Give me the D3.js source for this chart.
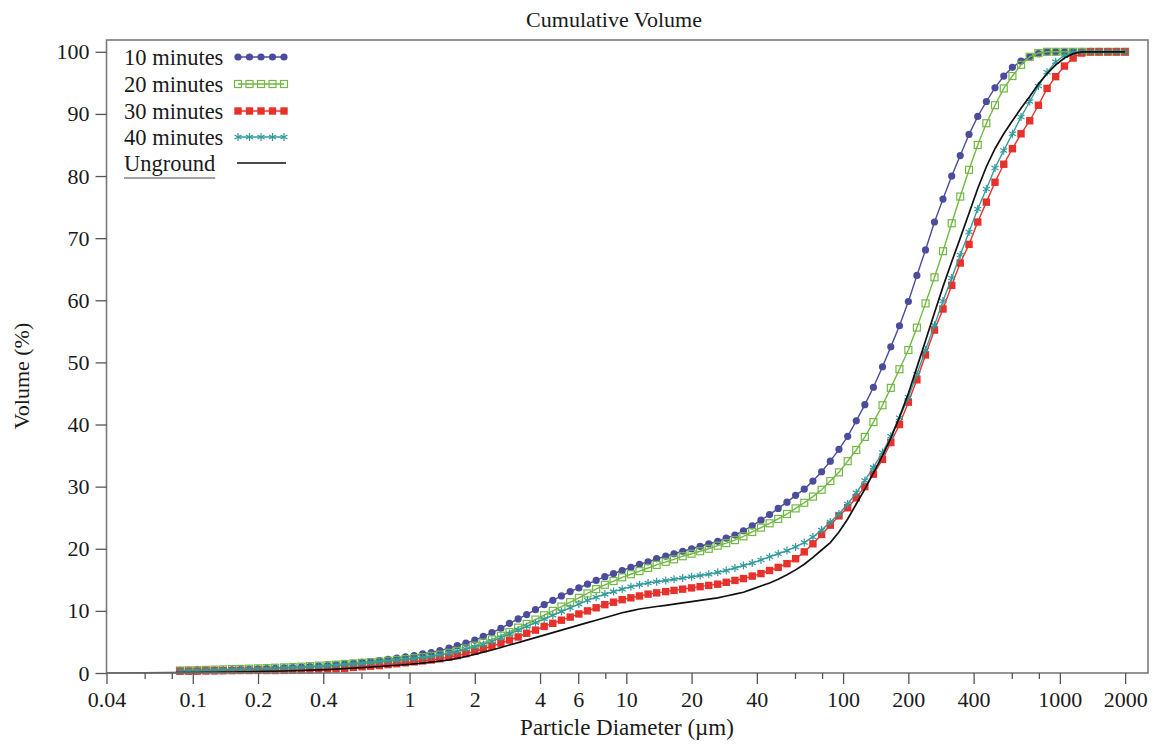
<!DOCTYPE html>
<html>
<head>
<meta charset="utf-8">
<script src="https://cdn.jsdelivr.net/npm/d3@7"></script>
<style>
  html, body { margin: 0; padding: 0; background: #fff; }
  svg text { font-family: "Liberation Serif", "Times New Roman", serif; fill: #1a1a1a; }
</style>
</head>
<body>
<div id="container"></div>
<script>
const width = 1161;
const height = 749;

// --- Data: particle size channels (µm) and cumulative volume (%) ---
const sizes = [
  0.0873, 0.0957, 0.105, 0.115, 0.126, 0.138, 0.152, 0.166, 0.182, 0.200,
  0.219, 0.240, 0.264, 0.289, 0.317, 0.347, 0.381, 0.418, 0.458, 0.502,
  0.551, 0.604, 0.662, 0.726, 0.796, 0.873, 0.957, 1.05, 1.15, 1.26,
  1.38, 1.52, 1.66, 1.82, 2.00, 2.19, 2.40, 2.64, 2.89, 3.17,
  3.47, 3.81, 4.18, 4.58, 5.02, 5.51, 6.04, 6.62, 7.26, 7.96,
  8.73, 9.57, 10.5, 11.5, 12.6, 13.8, 15.2, 16.6, 18.2, 20.0,
  21.9, 24.0, 26.4, 28.9, 31.7, 34.7, 38.1, 41.8, 45.8, 50.2,
  55.1, 60.4, 66.2, 72.6, 79.6, 87.3, 95.7, 105, 115, 126,
  138, 152, 166, 182, 200, 219, 240, 264, 289, 317,
  347, 381, 418, 458, 502, 551, 604, 662, 726, 796,
  873, 957, 1050, 1151, 1262, 1384, 1517, 1664, 1824, 2000
];

const tenMin = [
  0.28, 0.32, 0.36, 0.40, 0.44, 0.48, 0.52, 0.56, 0.60, 0.65,
  0.70, 0.76, 0.82, 0.88, 0.95, 1.02, 1.10, 1.20, 1.30, 1.42,
  1.55, 1.70, 1.85, 2.00, 2.20, 2.40, 2.60, 2.80, 3.10, 3.30,
  3.60, 4.00, 4.40, 4.80, 5.30, 5.90, 6.50, 7.20, 8.00, 8.70,
  9.40, 10.2, 11.0, 11.7, 12.4, 13.1, 13.7, 14.3, 14.9, 15.5,
  16.0, 16.5, 17.0, 17.5, 17.9, 18.4, 18.8, 19.2, 19.6, 20.0,
  20.4, 20.8, 21.2, 21.7, 22.2, 22.9, 23.7, 24.6, 25.5, 26.5,
  27.5, 28.6, 29.6, 30.9, 32.4, 34.1, 36.0, 38.1, 40.6, 43.2,
  46.0, 49.3, 52.5, 55.9, 59.8, 64.0, 68.1, 72.6, 76.3, 80.0,
  83.3, 86.7, 89.6, 92.0, 94.2, 96.1, 97.5, 98.5, 99.2, 99.7,
  100, 100, 100, 100, 100, 100, 100, 100, 100, 100
];

const twentyMin = [
  0.40, 0.43, 0.46, 0.50, 0.54, 0.58, 0.62, 0.66, 0.70, 0.75,
  0.80, 0.85, 0.90, 0.96, 1.02, 1.10, 1.18, 1.26, 1.35, 1.45,
  1.55, 1.65, 1.75, 1.85, 1.97, 2.10, 2.25, 2.40, 2.55, 2.75,
  2.95, 3.25, 3.55, 3.95, 4.40, 4.90, 5.40, 6.00, 6.60, 7.30,
  7.90, 8.60, 9.30, 10.0, 10.7, 11.4, 12.1, 12.8, 13.5, 14.2,
  14.8, 15.4, 15.9, 16.4, 16.9, 17.4, 17.9, 18.3, 18.8, 19.2,
  19.6, 20.0, 20.5, 20.9, 21.4, 22.0, 22.7, 23.4, 24.1, 24.8,
  25.6, 26.5, 27.4, 28.4, 29.5, 30.9, 32.3, 34.1, 35.9, 38.0,
  40.4, 43.1, 45.9, 48.9, 52.0, 55.6, 59.5, 63.7, 67.9, 72.4,
  76.7, 81.0, 85.0, 88.5, 91.4, 94.1, 96.1, 97.9, 99.2, 99.8,
  100, 100, 100, 100, 100, 100, 100, 100, 100, 100
];

const thirtyMin = [
  0.30, 0.30, 0.30, 0.32, 0.34, 0.36, 0.38, 0.40, 0.40, 0.42,
  0.40, 0.40, 0.42, 0.44, 0.46, 0.50, 0.54, 0.58, 0.64, 0.72,
  0.90, 1.00, 1.10, 1.20, 1.35, 1.50, 1.65, 1.80, 1.95, 2.10,
  2.30, 2.55, 2.80, 3.10, 3.50, 3.90, 4.30, 4.80, 5.30, 5.80,
  6.40, 6.90, 7.50, 8.00, 8.50, 9.00, 9.50, 10.0, 10.5, 11.0,
  11.4, 11.8, 12.1, 12.4, 12.7, 12.9, 13.1, 13.3, 13.5, 13.7,
  13.9, 14.1, 14.3, 14.6, 14.9, 15.2, 15.6, 16.0, 16.5, 17.0,
  17.6, 18.4, 19.5, 20.8, 22.3, 23.8, 25.3, 26.6, 28.2, 30.0,
  32.0, 34.4, 37.1, 40.0, 43.6, 47.2, 51.2, 55.2, 58.6, 62.4,
  66.0, 69.0, 72.6, 75.8, 79.0, 81.9, 84.4, 86.8, 88.9, 91.4,
  94.1, 96.0, 97.7, 99.0, 99.8, 100, 100, 100, 100, 100
];

const fortyMin = [
  0.35, 0.38, 0.40, 0.43, 0.46, 0.50, 0.54, 0.58, 0.62, 0.66,
  0.70, 0.75, 0.80, 0.85, 0.90, 0.97, 1.05, 1.13, 1.22, 1.32,
  1.43, 1.55, 1.67, 1.80, 1.93, 2.07, 2.20, 2.35, 2.50, 2.70,
  2.90, 3.20, 3.50, 3.85, 4.20, 4.60, 5.10, 5.70, 6.30, 6.90,
  7.50, 8.10, 8.70, 9.30, 9.90, 10.5, 11.1, 11.7, 12.2, 12.7,
  13.1, 13.5, 13.9, 14.2, 14.5, 14.7, 14.9, 15.1, 15.3, 15.5,
  15.7, 15.9, 16.2, 16.5, 16.9, 17.3, 17.7, 18.2, 18.7, 19.2,
  19.7, 20.3, 21.0, 21.9, 23.0, 24.3, 25.6, 27.2, 29.0, 31.0,
  33.1, 35.5, 38.1, 41.1, 44.4, 48.1, 52.0, 56.0, 59.9, 63.6,
  67.3, 71.0, 74.7, 77.9, 81.3, 84.1, 86.8, 89.5, 92.0, 94.5,
  96.7, 98.4, 99.4, 99.9, 100, 100, 100, 100, 100, 100
];

const unground = [
  0.05, 0.06, 0.08, 0.10, 0.12, 0.14, 0.16, 0.18, 0.20, 0.22,
  0.25, 0.28, 0.32, 0.36, 0.40, 0.45, 0.50, 0.55, 0.62, 0.70,
  0.78, 0.86, 0.95, 1.05, 1.15, 1.25, 1.35, 1.48, 1.60, 1.75,
  1.90, 2.10, 2.35, 2.65, 3.00, 3.35, 3.70, 4.10, 4.50, 4.90,
  5.30, 5.70, 6.10, 6.50, 6.90, 7.30, 7.70, 8.10, 8.50, 8.90,
  9.30, 9.70, 10.0, 10.3, 10.5, 10.7, 10.9, 11.1, 11.3, 11.5,
  11.7, 11.9, 12.1, 12.4, 12.7, 13.0, 13.5, 14.0, 14.5, 15.1,
  15.8, 16.6, 17.5, 18.6, 19.8, 21.0, 22.7, 24.8, 27.2, 29.6,
  32.2, 35.0, 37.8, 41.2, 45.0, 49.2, 53.5, 58.0, 62.2, 66.2,
  70.0, 74.0, 78.0, 81.5, 84.4, 86.8, 88.9, 90.9, 92.8, 94.8,
  96.5, 97.9, 99.0, 99.7, 100, 100, 100, 100, 100, 100
];
// Unground trace starts flat at zero from the lowest size bound
const ungroundLead = [0.04, 0];

// --- Axis tick values ---
const xMajor = [0.04, 0.1, 0.2, 0.4, 1, 2, 4, 6, 10, 20, 40, 100, 200, 400, 1000, 2000];
const xMinor = [0.06, 0.08, 0.6, 0.8, 8, 60, 80, 600, 800];
const yTicks = [0, 10, 20, 30, 40, 50, 60, 70, 80, 90, 100];

const series = [
  { name: "10 minutes", values: tenMin, color: "#4c4c9c", marker: "dot" },
  { name: "20 minutes", values: twentyMin, color: "#72b944", marker: "openSquare" },
  { name: "30 minutes", values: thirtyMin, color: "#e6322b", marker: "square" },
  { name: "40 minutes", values: fortyMin, color: "#359a9c", marker: "star" },
];

// --- Layout ---
const plot = { left: 106.5, right: 1148, top: 40, bottom: 673 };
const frameColor = "#7a7a7a";

const svg = d3.select("#container").append("svg")
  .attr("width", width).attr("height", height)
  .style("background", "#fff");

const x = d3.scaleLog().domain([0.04, 2550]).range([plot.left, plot.right]);
const y = d3.scaleLinear().domain([0, 101.9]).range([plot.bottom, plot.top]);

// --- Markers ---
function addMarker(sel, kind, color) {
  if (kind === "dot") {
    sel.append("circle").attr("r", 3.6).attr("fill", color);
  } else if (kind === "openSquare") {
    sel.append("rect").attr("x", -3.5).attr("y", -3.5).attr("width", 7).attr("height", 7)
      .attr("fill", "none").attr("stroke", color).attr("stroke-width", 1.2);
  } else if (kind === "square") {
    sel.append("rect").attr("x", -3.7).attr("y", -3.7).attr("width", 7.4).attr("height", 7.4)
      .attr("fill", color);
  } else {
    sel.append("path").attr("d", "M0,-4V4M-3.5,-2L3.5,2M-3.5,2L3.5,-2")
      .attr("fill", "none").attr("stroke", color).attr("stroke-width", 1.2);
  }
}

const line = d3.line().x(d => x(d[0])).y(d => y(d[1]));

// --- Series lines + markers ---
const plotG = svg.append("g");
series.forEach(s => {
  const pts = sizes.map((d, i) => [d, s.values[i]]);
  plotG.append("path").datum(pts)
    .attr("d", line)
    .attr("fill", "none").attr("stroke", s.color).attr("stroke-width", 1.4);
  plotG.append("g").selectAll("g").data(pts).join("g")
    .attr("transform", d => `translate(${x(d[0])},${y(d[1])})`)
    .each(function () { addMarker(d3.select(this), s.marker, s.color); });
});

const ungroundPts = [ungroundLead].concat(sizes.map((d, i) => [d, unground[i]]));
plotG.append("path").datum(ungroundPts)
  .attr("d", line)
  .attr("fill", "none").attr("stroke", "#111").attr("stroke-width", 1.7);

// --- Frame ---
svg.append("rect")
  .attr("x", plot.left).attr("y", plot.top)
  .attr("width", plot.right - plot.left).attr("height", plot.bottom - plot.top)
  .attr("fill", "none").attr("stroke", frameColor).attr("stroke-width", 1.6);

// --- X axis ---
const xAxis = svg.append("g").attr("transform", `translate(0,${plot.bottom})`)
  .call(d3.axisBottom(x).tickValues(xMajor).tickFormat(d => String(d))
    .tickSize(11).tickSizeOuter(0).tickPadding(7));
xAxis.select(".domain").remove();
xAxis.selectAll("line").attr("stroke", "#555").attr("stroke-width", 1.3);
xAxis.selectAll("text").style("font-size", "22px");

const xMinorAxis = svg.append("g").attr("transform", `translate(0,${plot.bottom})`)
  .call(d3.axisBottom(x).tickValues(xMinor).tickFormat("").tickSize(6).tickSizeOuter(0));
xMinorAxis.select(".domain").remove();
xMinorAxis.selectAll("line").attr("stroke", "#555").attr("stroke-width", 1.3);

// --- Y axis ---
const yAxis = svg.append("g").attr("transform", `translate(${plot.left},0)`)
  .call(d3.axisLeft(y).tickValues(yTicks).tickSize(11).tickSizeOuter(0).tickPadding(6));
yAxis.select(".domain").remove();
yAxis.selectAll("line").attr("stroke", "#555").attr("stroke-width", 1.3);
yAxis.selectAll("text").style("font-size", "22px");

// --- Titles ---
svg.append("text")
  .attr("x", 614).attr("y", 27)
  .attr("text-anchor", "middle")
  .style("font-size", "22px")
  .text("Cumulative Volume");

svg.append("text")
  .attr("x", 627).attr("y", 735)
  .attr("text-anchor", "middle")
  .style("font-size", "23px")
  .text("Particle Diameter (µm)");

svg.append("text")
  .attr("transform", "rotate(-90)")
  .attr("x", -376).attr("y", 29)
  .attr("text-anchor", "middle")
  .style("font-size", "22px")
  .text("Volume (%)");

// --- Legend ---
const legend = svg.append("g");
const rowY = [57, 84, 111, 137, 163];
const sampleX = [238, 249.5, 261, 272.5, 284];

series.forEach((s, i) => {
  legend.append("text")
    .attr("x", 124).attr("y", rowY[i]).attr("dy", "0.35em")
    .style("font-size", "22.5px")
    .text(s.name);
  legend.append("line")
    .attr("x1", sampleX[0]).attr("x2", sampleX[4])
    .attr("y1", rowY[i]).attr("y2", rowY[i])
    .attr("stroke", s.color).attr("stroke-width", 1.4);
  sampleX.forEach(sx => {
    const m = legend.append("g").attr("transform", `translate(${sx},${rowY[i]})`);
    addMarker(m, s.marker, s.color);
  });
});

const ungroundText = legend.append("text")
  .attr("x", 124).attr("y", rowY[4]).attr("dy", "0.35em")
  .style("font-size", "22.5px")
  .text("Unground");
const uw = ungroundText.node().getComputedTextLength();
legend.append("line")
  .attr("x1", 124).attr("x2", 124 + uw)
  .attr("y1", 178).attr("y2", 178)
  .attr("stroke", "#444").attr("stroke-width", 1);
legend.append("line")
  .attr("x1", 237).attr("x2", 286)
  .attr("y1", rowY[4]).attr("y2", rowY[4])
  .attr("stroke", "#111").attr("stroke-width", 1.7);
</script>
</body>
</html>
